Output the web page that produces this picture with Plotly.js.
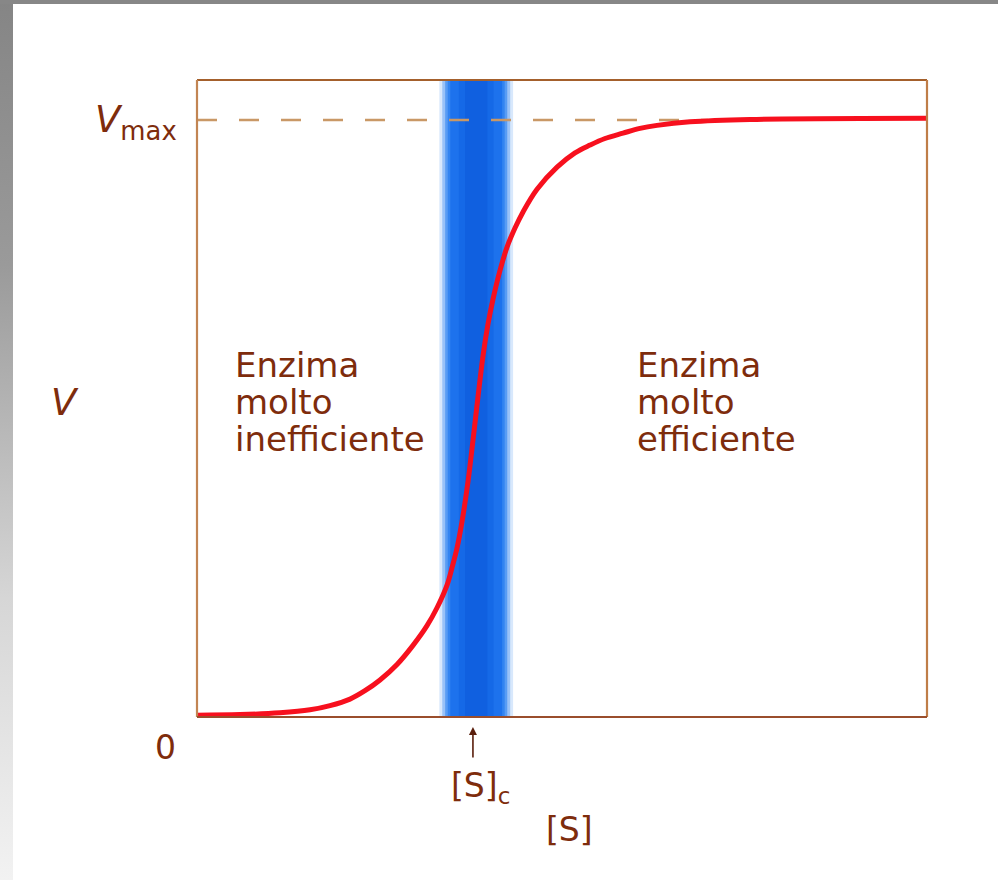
<!DOCTYPE html>
<html>
<head>
<meta charset="utf-8">
<script src="https://cdn.plot.ly/plotly-3.0.1.min.js"></script>
<style>
  html, body { margin: 0; padding: 0; width: 998px; height: 880px; overflow: hidden; background: #ffffff; }
  #left { position: absolute; left: 0; top: 0; width: 13px; height: 880px;
          background: linear-gradient(#858585 0%, #9a9a9a 30%, #d6d6d6 68%, #f2f2f2 100%); }
  #top { position: absolute; left: 0; top: 0; width: 998px; height: 4px; background: #878787; }
  #chart { position: absolute; left: 0; top: 0; width: 998px; height: 880px; }
</style>
</head>
<body>
<div id="left"></div>
<div id="top"></div>
<div id="chart"></div>
<script>
// Substrate concentration [S] (arbitrary units, 0-100) and reaction rate V (fraction of Vmax)
var substrate = [0, 5.89, 11.37, 15.48, 18.22, 20.96, 23.01, 25.07, 27.40, 29.59, 31.51, 32.88, 34.25, 34.93, 35.62, 36.30, 37.12, 37.81, 38.49, 39.18, 39.86, 40.55, 41.51, 42.47, 43.56, 44.66, 46.58, 49.32, 51.78, 53.84, 55.89, 58.36, 60.68, 63.01, 67.53, 75.75, 100];
var velocity  = [0.003, 0.004, 0.007, 0.012, 0.019, 0.030, 0.044, 0.062, 0.088, 0.120, 0.153, 0.183, 0.221, 0.250, 0.283, 0.327, 0.394, 0.464, 0.536, 0.605, 0.658, 0.700, 0.748, 0.787, 0.819, 0.846, 0.884, 0.921, 0.945, 0.958, 0.969, 0.978, 0.986, 0.991, 0.997, 1.001, 1.003];
var VMAX = 1.0;
var vmaxLineX = [0, 70];
var SC = 37.8;                 // critical substrate concentration [S]c
var bandRange = [34.0, 42.5];  // blue transition band
var labelLeft = ["Enzima", "molto", "inefficiente"];
var labelRight = ["Enzima", "molto", "efficiente"];

var brown = "#7e2c0c";
var FONT = "DejaVu Sans";

var traces = [
  { x: vmaxLineX, y: [VMAX, VMAX], mode: "lines", hoverinfo: "skip",
    line: { color: "#c99866", width: 2.5, dash: "20px,22px" } },
  { x: substrate, y: velocity, mode: "lines", hoverinfo: "skip",
    line: { color: "#f7101e", width: 5, shape: "spline", smoothing: 1 } }
];

var bw = bandRange[1] - bandRange[0];
function band(pad, color, op) {
  return { type: "rect", layer: "below", xref: "x", yref: "paper",
           x0: bandRange[0] + pad, x1: bandRange[1] - pad, y0: 0, y1: 1,
           fillcolor: color, opacity: op, line: { width: 0 } };
}
var shapes = [
  band(-0.8, "#8fbcf7", 0.35),
  band(-0.4, "#5a9cf3", 0.5),
  band(0.0, "#3c8cf2", 0.7),
  band(0.35, "#2a7ef0", 0.8),
  band(0.7, "#1b70ec", 0.9),
  band(0.22 * bw, "#0d5fe2", 0.5),
  band(0.32 * bw, "#0a56d8", 0.45),
  // frame
  { type: "line", xref: "paper", yref: "paper", x0: 0, x1: 1, y0: 1, y1: 1, line: { color: "#a4602c", width: 2.2 } },
  { type: "line", xref: "paper", yref: "paper", x0: 0, x1: 0, y0: 0, y1: 1, line: { color: "#c28553", width: 2.2 } },
  { type: "line", xref: "paper", yref: "paper", x0: 1, x1: 1, y0: 0, y1: 1, line: { color: "#bf7d48", width: 2.2 } },
  { type: "line", xref: "paper", yref: "paper", x0: 0, x1: 1, y0: 0, y1: 0, line: { color: "#9a4e2c", width: 2.2 } }
];

var anns = [];
function txt(t, x, y, xref, yref, opts) {
  var a = { text: t, x: x, y: y, xref: xref, yref: yref, showarrow: false,
            font: { family: FONT, size: 34, color: brown }, xanchor: "left", yanchor: "middle" };
  for (var k in opts) a[k] = opts[k];
  anns.push(a);
}
var lineY = [0.5526, 0.4945, 0.4364];
for (var i = 0; i < 3; i++) {
  txt(labelLeft[i], 0.049, lineY[i], "paper", "paper", {});
  txt(labelRight[i], 0.6, lineY[i], "paper", "paper", {});
}
// Vmax label
txt("<i>V</i><sub>max</sub>", 0, VMAX, "paper", "y", { xanchor: "right", xshift: -18, yshift: -2, font: { family: FONT, size: 37, color: brown } });
// y-axis label V
txt("<i>V</i>", 0, 0.493, "paper", "paper", { xanchor: "center", xshift: -132, font: { family: FONT, size: 37, color: brown } });
// origin 0
txt("0", 0, 0, "paper", "y", { xanchor: "center", xshift: -32, yshift: -30, font: { family: FONT, size: 33, color: brown } });
// arrow pointing to [S]c
anns.push({ text: "", x: SC, y: 0, xref: "x", yref: "y", showarrow: true, ax: 0, ay: 42, axref: "pixel", ayref: "pixel",
            arrowhead: 2, arrowsize: 1, arrowwidth: 1.6, arrowcolor: "#5a1e0c", standoff: 10 });
// [S]c label
txt("[S]<sub>c</sub>", SC, 0, "x", "paper", { xanchor: "left", xshift: -24, yshift: -70, font: { family: FONT, size: 33, color: brown } });
// x-axis label [S]
txt("[S]", 0, 0, "paper", "paper", { xanchor: "center", xshift: 372, yshift: -112, font: { family: FONT, size: 33, color: brown } });

var layout = {
  width: 998, height: 880,
  margin: { l: 197, r: 71, t: 80, b: 163 },
  paper_bgcolor: "rgba(0,0,0,0)",
  plot_bgcolor: "rgba(0,0,0,0)",
  showlegend: false,
  xaxis: { range: [0, 100], showgrid: false, zeroline: false, showticklabels: false, showline: false, ticks: "", fixedrange: true },
  yaxis: { range: [0, 1.067], showgrid: false, zeroline: false, showticklabels: false, showline: false, ticks: "", fixedrange: true },
  shapes: shapes,
  annotations: anns
};

Plotly.newPlot("chart", traces, layout, { displayModeBar: false, staticPlot: true });
</script>
</body>
</html>
